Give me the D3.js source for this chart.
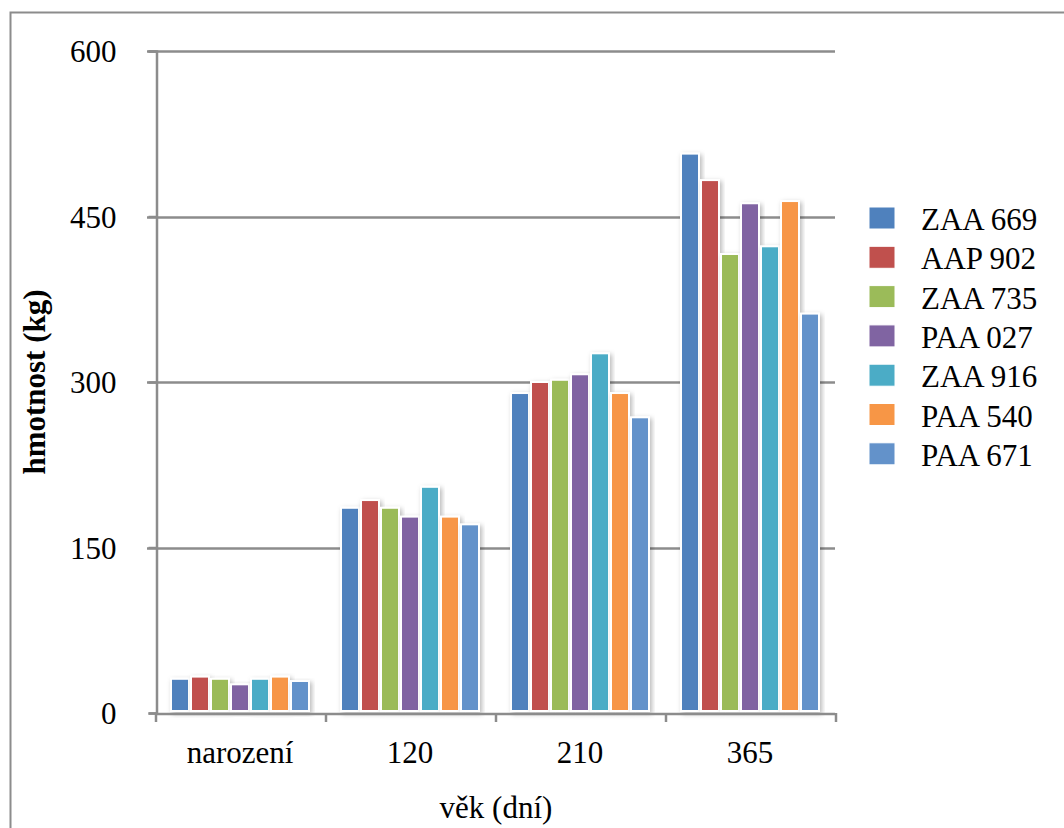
<!DOCTYPE html>
<html>
<head>
<meta charset="utf-8">
<script src="https://cdn.jsdelivr.net/npm/d3@7/dist/d3.min.js"></script>
<style>
  html, body { margin: 0; padding: 0; background: #fff; }
  svg { display: block; }
  svg text { font-family: "Liberation Serif", "Times New Roman", "DejaVu Serif", serif; }
</style>
</head>
<body>
<svg id="chart" width="1064" height="828"></svg>
<script>
// Age categories (x axis)
const categories = ["narození", "120", "210", "365"];
// Animal identifiers (series)
const seriesNames = ["ZAA 669", "AAP 902", "ZAA 735", "PAA 027", "ZAA 916", "PAA 540", "PAA 671"];
// Weight (kg) per animal, one value per age category
const zaa669 = [31, 186, 290, 507];
const aap902 = [33, 193, 300, 483];
const zaa735 = [31, 186, 302, 416];
const paa027 = [26, 178, 307, 462];
const zaa916 = [31, 205, 326, 423];
const paa540 = [33, 178, 290, 464];
const paa671 = [29, 171, 268, 362];
const seriesValues = [zaa669, aap902, zaa735, paa027, zaa916, paa540, paa671];
const seriesColors = ["#4F81BD", "#C0504D", "#9BBB59", "#8064A2", "#4BACC6", "#F79646", "#6392CA"];
const yTicks = [0, 150, 300, 450, 600];

const FONT = "Liberation Serif, Times New Roman, DejaVu Serif, serif";
const FS = 31;

const svg = d3.select("#chart").attr("font-family", FONT);
const plot = { left: 155, right: 835, top: 51, bottom: 713 };

// Drop shadow used under bars
const defs = svg.append("defs");
const f = defs.append("filter").attr("id", "shadow")
  .attr("x", "-30%").attr("y", "-10%").attr("width", "160%").attr("height", "130%");
f.append("feDropShadow").attr("dx", 2).attr("dy", 2).attr("stdDeviation", 2.5)
  .attr("flood-color", "#000").attr("flood-opacity", 0.28);

// Outer chart frame
svg.append("rect").attr("x", 10.5).attr("y", 12.5).attr("width", 1100).attr("height", 900)
  .attr("fill", "#fff").attr("stroke", "#8c8c8c").attr("stroke-width", 2);

const y = d3.scaleLinear().domain([0, 600]).range([plot.bottom, plot.top]);
const x0 = d3.scaleBand().domain(categories).range([plot.left, plot.right]).paddingInner(0).paddingOuter(0);
// 7 bars with a gap of 1.5 bar widths per category
const bw = x0.bandwidth() / (seriesNames.length + 1.5);
const x1 = d3.scaleBand().domain(seriesNames)
  .range([bw * 0.75, bw * 0.75 + bw * seriesNames.length]).padding(0);

// Horizontal gridlines
svg.append("g").selectAll("line").data(yTicks.filter(d => d > 0)).join("line")
  .attr("x1", plot.left - 8).attr("x2", plot.right)
  .attr("y1", d => Math.round(y(d)) + 0.5).attr("y2", d => Math.round(y(d)) + 0.5)
  .attr("stroke", "#8c8c8c").attr("stroke-width", 2.5);

// Bars
const groups = svg.append("g").selectAll("g").data(categories).join("g")
  .attr("transform", c => `translate(${x0(c)},0)`);
groups.selectAll("rect")
  .data((c, ci) => seriesNames.map((s, si) => ({ s, si, v: seriesValues[si][ci] })))
  .join("rect")
  .attr("x", d => x1(d.s) + 1)
  .attr("width", x1.bandwidth() - 2)
  .attr("y", d => y(d.v))
  .attr("height", d => y(0) - y(d.v) - 2)
  .attr("fill", d => seriesColors[d.si])
  .attr("stroke", "#fff").attr("stroke-width", 2)
  .attr("filter", "url(#shadow)");

// Y axis
const yAxis = d3.axisLeft(y).tickValues(yTicks).tickSize(8).tickFormat(d3.format("d"));
const gy = svg.append("g").attr("transform", `translate(${plot.left + 1.5},0)`).call(yAxis)
  .attr("font-family", FONT).attr("font-size", FS);
gy.select(".domain").attr("stroke", "#8c8c8c").attr("stroke-width", 2.5);
gy.selectAll(".tick line").attr("stroke", "#8c8c8c").attr("stroke-width", 2.5);
gy.selectAll(".tick text").attr("x", -40).attr("dy", "0.34em").attr("fill", "#000");

// X axis
const xEdges = d3.scaleLinear().domain([0, categories.length]).range([plot.left, plot.right]);
const gx = svg.append("g");
gx.append("line").attr("x1", plot.left).attr("x2", plot.right)
  .attr("y1", plot.bottom + 1).attr("y2", plot.bottom + 1)
  .attr("stroke", "#8c8c8c").attr("stroke-width", 2.5);
gx.selectAll(".tk").data(d3.range(categories.length + 1)).join("line").attr("class", "tk")
  .attr("x1", i => xEdges(i) + 1).attr("x2", i => xEdges(i) + 1)
  .attr("y1", plot.bottom).attr("y2", plot.bottom + 9)
  .attr("stroke", "#8c8c8c").attr("stroke-width", 2.5);
gx.selectAll("text").data(categories).join("text")
  .attr("x", c => x0(c) + x0.bandwidth() / 2).attr("y", 763)
  .attr("text-anchor", "middle").attr("font-size", FS).attr("fill", "#000")
  .text(c => c);

// Axis titles
svg.append("text").attr("x", 496).attr("y", 818).attr("text-anchor", "middle")
  .attr("font-size", FS).attr("fill", "#000").text("věk (dní)");
svg.append("text").attr("transform", "translate(45,382) rotate(-90)")
  .attr("text-anchor", "middle").attr("font-size", FS).attr("font-weight", "bold")
  .attr("fill", "#000").text("hmotnost (kg)");

// Legend
const legend = svg.append("g").selectAll("g").data(seriesNames).join("g")
  .attr("transform", (d, i) => `translate(869,${207 + i * 39.3})`);
legend.append("rect").attr("width", 26).attr("height", 22)
  .attr("fill", (d, i) => seriesColors[i]).attr("stroke", "#fff").attr("stroke-width", 1);
legend.append("text").attr("x", 52).attr("y", 23).attr("font-size", FS)
  .attr("fill", "#000").text(d => d);
</script>
</body>
</html>
